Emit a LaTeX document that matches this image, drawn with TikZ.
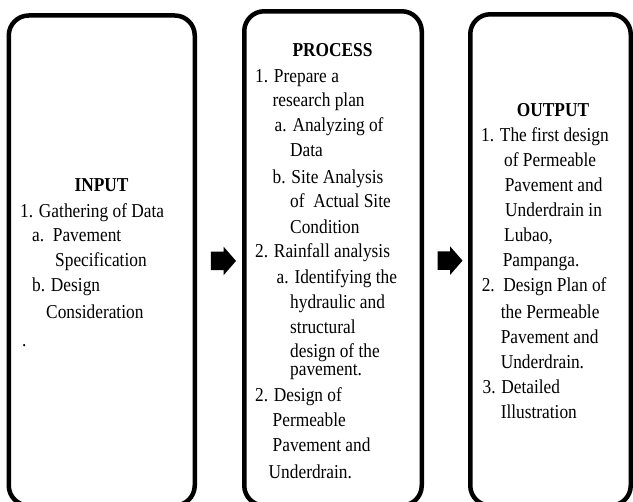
\documentclass[tikz,border=0pt]{standalone}
\usepackage{fontspec}
\setmainfont{Liberation Serif}[FakeStretch=0.88]
\usetikzlibrary{shapes.arrows}

\tikzset{
  panel/.style = {draw, line width = 4.5pt, rounded corners = 20pt, inner sep = 0pt},
  bigarrow/.style = {single arrow, fill = black, inner xsep = 0pt, inner ysep = 9pt,
    minimum height = 25pt, single arrow head extend = 5pt, single arrow tip angle = 98},
  txt/.style = {anchor = west, inner sep = 0pt, text height = 13pt, text depth = 0pt,
    font = \fontsize{19.7}{25}\selectfont},
  head/.style = {txt, anchor = center, font = \fontsize{19.7}{25}\selectfont\bfseries}
}

\begin{document}
\begin{tikzpicture}[x = 1pt, y = 1pt, yscale = -1]
\useasboundingbox (0,0) rectangle (633,502);
% the three boxes
\node[panel, minimum width = 186pt, minimum height = 490pt] (inbox) at (101.75,260.5) {};
\node[panel, minimum width = 177.5pt, minimum height = 494.25pt] (procbox) at (333,258.4) {};
\node[panel, minimum width = 160.5pt, minimum height = 491.25pt] (outbox) at (550.5,259.9) {};
% arrows between them
\path (inbox.east) -- (procbox.west) node[bigarrow, midway, yshift = -1.5pt] (arr1) {};
\path (procbox.east) -- (outbox.west) node[bigarrow, midway, yshift = -1.5pt] (arr2) {};
% INPUT
\node[head] (intitle) at (101.5,185) {INPUT};
\foreach \x/\y/\t [count = \i] in {20/211/{1. Gathering of Data}, 32/235/{a.\ \ Pavement},
  55/260/Specification, 32/285/{b. Design}, 46/312/Consideration, 22/340/{.}}
{
  \node[txt] (in\i) at (\x,\y) {\t};
}
% PROCESS
\node[head] (proctitle) at (332.5,50) {PROCESS};
\foreach \x/\y/\t [count = \i] in {255/76/{1. Prepare a}, 272.5/100/{research plan},
  274.5/125/{a. Analyzing of}, 290/150/Data, 272.5/177/{b. Site Analysis},
  290/201/{of\ \ Actual Site}, 290/227/Condition, 255/251/{2. Rainfall analysis},
  276.5/277/{a. Identifying the}, 290/302/{hydraulic and}, 290/327/structural,
  290/351/{design of the}, 290/369/{pavement.}, 255/395/{2. Design of},
  272.5/420/Permeable, 272.5/445/{Pavement and}, 268.5/472/{Underdrain.}}
{
  \node[txt] (proc\i) at (\x,\y) {\t};
}
% OUTPUT
\node[head] (outtitle) at (553,110) {OUTPUT};
\foreach \x/\y/\t [count = \i] in {481/135/{1. The first design}, 504/160/{of Permeable},
  504.6/185/{Pavement and}, 505/210/{Underdrain in}, 504/235/{Lubao,},
  502.6/260/{Pampanga.}, 481.6/285/{2.\ \ Design Plan of}, 500.6/312/{the Permeable},
  500.6/337/{Pavement and}, 500.6/362/{Underdrain.}, 482.4/387/{3. Detailed},
  500.6/412/{Illustration}}
{
  \node[txt] (out\i) at (\x,\y) {\t};
}
\end{tikzpicture}
\end{document}
